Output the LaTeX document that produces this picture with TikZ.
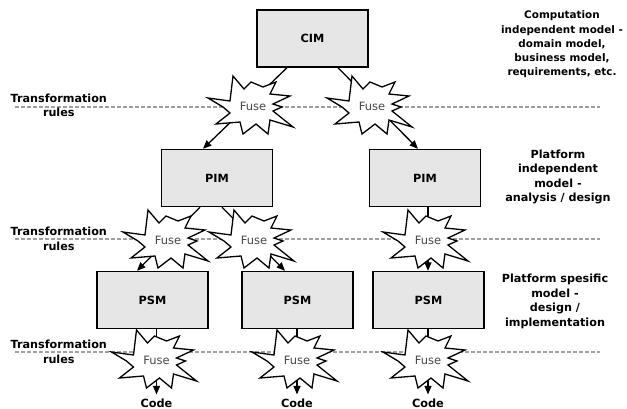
\documentclass[tikz,border=0pt]{standalone}
\usepackage{fontspec}
\setmainfont{DejaVu Sans}
\usetikzlibrary{arrows.meta}

\definecolor{boxfill}{HTML}{E6E6E6}
\definecolor{fusetext}{HTML}{474747}
\definecolor{rulegray}{HTML}{A0A0A0}

\tikzset{
  model/.style={draw=black, line width=1.4pt, fill=boxfill,
    minimum width=111pt, minimum height=57pt, inner sep=0pt,
    font=\bfseries\fontsize{11.3}{14}\selectfont},
  note/.style={align=center, inner sep=0pt,
    font=\bfseries\fontsize{11.2}{14.5}\selectfont},
  codelabel/.style={inner sep=4pt, font=\bfseries\fontsize{11.3}{14}\selectfont},
  ruleline/.style={draw=rulegray, line width=1.2pt, dash pattern=on 3.5pt off 2.5pt},
  flow/.style={draw=black, line width=1.3pt, -{Triangle[length=8.5pt,width=7pt]}},
  starline/.style={draw=black, fill=white, line width=1.3pt, line join=miter},
  fuselabel/.style={inner sep=0pt, text=fusetext, font=\fontsize{11.5}{13}\selectfont}
}

% explosion outline around a fuse label, given its centre
\newcommand\fusestar[1]{%
  \filldraw[starline, shift={#1}]
    (-20,-30) -- (-9,-17) -- (-2,-24) -- (10,-19) -- (23,-24) -- (17,-12)
    -- (37,-10) -- (20,-2) -- (29,1) -- (20,5) -- (40,21) -- (17,14)
    -- (15,28) -- (3,18) -- (-10,28) -- (-13,16) -- (-37,18) -- (-23,7)
    -- (-30,1) -- (-45,-8) -- (-23,-5) -- cycle;}

\begin{document}
\begin{tikzpicture}[x=1pt, y=-1pt]
  \useasboundingbox (0,0) rectangle (627,409);

  % transformation levels
  \coordinate (r1s) at (15,107);  \coordinate (r1e) at (600,107);
  \coordinate (r2s) at (15,239);  \coordinate (r2e) at (600,239);
  \coordinate (r3s) at (15,352);  \coordinate (r3e) at (600,352);
  \draw[ruleline] (r1s) -- (r1e);
  \draw[ruleline] (r2s) -- (r2e);
  \draw[ruleline] (r3s) -- (r3e);

  \node[note] (tr1) at (58.8,105.5) {Transformation\\rules};
  \node[note] (tr2) at (58.8,239)   {Transformation\\rules};
  \node[note] (tr3) at (58.8,352)   {Transformation\\rules};

  % models
  \node[model] (cim)  at (312.5,38.5) {CIM};
  \node[model] (pimL) at (217,178)    {PIM};
  \node[model] (pimR) at (425,178)    {PIM};
  \node[model] (psmL) at (152.5,300)  {PSM};
  \node[model] (psmM) at (297.5,300)  {PSM};
  \node[model] (psmR) at (428.5,300)  {PSM};

  \node[codelabel] (codeL) at (156.5,403) {Code};
  \node[codelabel] (codeM) at (297,403)   {Code};
  \node[codelabel] (codeR) at (428,403)   {Code};

  % level descriptions
  \node[note, font=\bfseries\fontsize{10.4}{14.3}\selectfont] (dCIM) at (562,44.5)
    {Computation\\independent model -\\domain model,\\business model,\\requirements, etc.};
  \node[note] (dPIM) at (558,177)   {Platform\\independent\\model -\\analysis / design};
  \node[note] (dPSM) at (555,301.5) {Platform spesific\\model -\\design /\\implementation};

  % transformations
  \draw[flow] ([xshift=-25.5pt]cim.south) -- ([xshift=-14pt]pimL.north);
  \draw[flow] ([xshift=25.5pt]cim.south)  -- ([xshift=-7pt]pimR.north);
  \draw[flow] ([xshift=-17pt]pimL.south)  -- ([xshift=-15.5pt]psmL.north);
  \draw[flow] ([xshift=5pt]pimL.south)    -- ([xshift=-12.5pt]psmM.north);
  \draw[flow] ([xshift=3pt]pimR.south)    -- ([xshift=-0.5pt]psmR.north);
  \draw[flow] ([xshift=4pt]psmL.south)    -- (codeL.north);
  \draw[flow] ([xshift=-0.5pt]psmM.south) -- (codeM.north);
  \draw[flow] ([xshift=-0.5pt]psmR.south) -- (codeR.north);

  % fuses
  \fusestar{(253,106)}   \node[fuselabel] (fA) at (253,106)   {Fuse};
  \fusestar{(372,106)}   \node[fuselabel] (fB) at (372,106)   {Fuse};
  \fusestar{(168,240)}   \node[fuselabel] (fC) at (168,240)   {Fuse};
  \fusestar{(254,240)}   \node[fuselabel] (fD) at (254,240)   {Fuse};
  \fusestar{(428,240)}   \node[fuselabel] (fE) at (428,240)   {Fuse};
  \fusestar{(156.5,360)} \node[fuselabel] (fF) at (156.5,360) {Fuse};
  \fusestar{(297,360)}   \node[fuselabel] (fG) at (297,360)   {Fuse};
  \fusestar{(428,360)}   \node[fuselabel] (fH) at (428,360)   {Fuse};
\end{tikzpicture}
\end{document}
